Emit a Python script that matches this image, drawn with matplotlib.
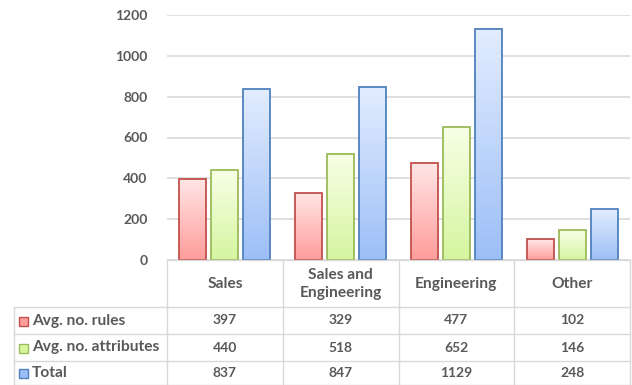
import numpy as np
import matplotlib.pyplot as plt
from matplotlib.transforms import blended_transform_factory
from matplotlib.colors import LinearSegmentedColormap
from matplotlib.patches import Rectangle

categories = ["Sales", "Sales and\nEngineering", "Engineering", "Other"]
series_names = ["Avg. no. rules", "Avg. no. attributes", "Total"]
avg_rules = [397, 329, 477, 102]
avg_attributes = [440, 518, 652, 146]
totals = [837, 847, 1129, 248]
y_ticks = [0, 200, 400, 600, 800, 1000, 1200]

# (top colour, bottom colour, edge colour)
styles = [
    ("#ffe6e6", "#ff9d9b", "#c0504d"),
    ("#f7ffe6", "#d6f5a0", "#9bbb59"),
    ("#e2ecff", "#9dbff7", "#4f81bd"),
]

W, H = 632, 385
fig = plt.figure(figsize=(W / 100, H / 100), dpi=100)
plt.rcParams['font.family'] = ['Lato', 'DejaVu Sans']
txt_color = "#595959"
grid_color = "#d9d9d9"
label_size = 11.2
num_size = 10

# plot area in pixels
left_px, right_px, top_px, zero_px = 167, 630, 15, 260
ax = fig.add_axes([left_px / W, 1 - zero_px / H, (right_px - left_px) / W, (zero_px - top_px) / H])
ax.set_xlim(-0.5, len(categories) - 0.5)
ax.set_ylim(0, 1200)

for s in ax.spines.values():
    s.set_visible(False)
ax.set_yticks(y_ticks)
ax.set_yticklabels([str(v) for v in y_ticks], color=txt_color, fontsize=num_size, fontweight='bold')
ax.tick_params(axis='y', length=0, pad=14)
ax.set_xticks([])
ax.grid(axis='y', color=grid_color, linewidth=1.2)
ax.set_axisbelow(True)

x = np.arange(len(categories))
step = 32 / 115.75
bw = 27 / 115.75
grad = np.linspace(0, 1, 64).reshape(-1, 1)

all_series = [avg_rules, avg_attributes, totals]
for i, vals in enumerate(all_series):
    top_c, bot_c, edge_c = styles[i]
    cmap = LinearSegmentedColormap.from_list("g%d" % i, [bot_c, top_c])
    bars = ax.bar(x + (i - 1) * step, vals, bw, facecolor="none", edgecolor=edge_c, linewidth=1.3, zorder=3)
    for b in bars:
        x0, y0 = b.get_x(), b.get_y()
        im = ax.imshow(grad, cmap=cmap, aspect='auto', origin='lower',
                       extent=[x0, x0 + b.get_width(), y0, y0 + b.get_height()], zorder=2)
        im.set_clip_path(b)
ax.set_xlim(-0.5, len(categories) - 0.5)
ax.set_ylim(0, 1200)

# data table below the plot
tr = blended_transform_factory(ax.transData, fig.transFigure)
def fy(px):
    return 1 - px / H

header_bottom = 307
row_lines = [307, 334, 361, 385]
table_bottom = 385
lw = 1.0

# top line of table (axis line)
fig.add_artist(plt.Line2D([-0.5, 3.5], [fy(zero_px), fy(zero_px)], transform=tr, color=grid_color, lw=lw))
# vertical lines between categories
for k in range(len(categories) + 1):
    fig.add_artist(plt.Line2D([k - 0.5, k - 0.5], [fy(zero_px), fy(table_bottom)], transform=tr, color=grid_color, lw=lw))
# row lines spanning the legend column
for ry in row_lines:
    fig.add_artist(plt.Line2D([14 / W, right_px / W], [fy(ry), fy(ry)], transform=fig.transFigure, color=grid_color, lw=lw))
fig.add_artist(plt.Line2D([14 / W, 14 / W], [fy(header_bottom), fy(table_bottom)], transform=fig.transFigure, color=grid_color, lw=lw))

# header texts
for k, c in enumerate(categories):
    fig.text(k, fy((zero_px + header_bottom) / 2 + 0.5), c, transform=tr, ha='center', va='center',
             color=txt_color, fontsize=label_size, fontweight='bold', linespacing=1.35)

# rows
for r, (name, vals) in enumerate(zip(series_names, all_series)):
    cy = (row_lines[r] + row_lines[r + 1]) / 2
    top_c, bot_c, edge_c = styles[r]
    fig.add_artist(Rectangle((19 / W, fy(cy + 5)), 9 / W, 9 / H, transform=fig.transFigure,
                             facecolor=bot_c, edgecolor=edge_c, lw=1.0))
    fig.text(32 / W, fy(cy), name, ha='left', va='center', color=txt_color, fontsize=label_size, fontweight='bold')
    for k, v in enumerate(vals):
        fig.text(k, fy(cy), str(v), transform=tr, ha='center', va='center',
                 color=txt_color, fontsize=num_size, fontweight='bold')

fig.savefig("out.png", dpi=100)
